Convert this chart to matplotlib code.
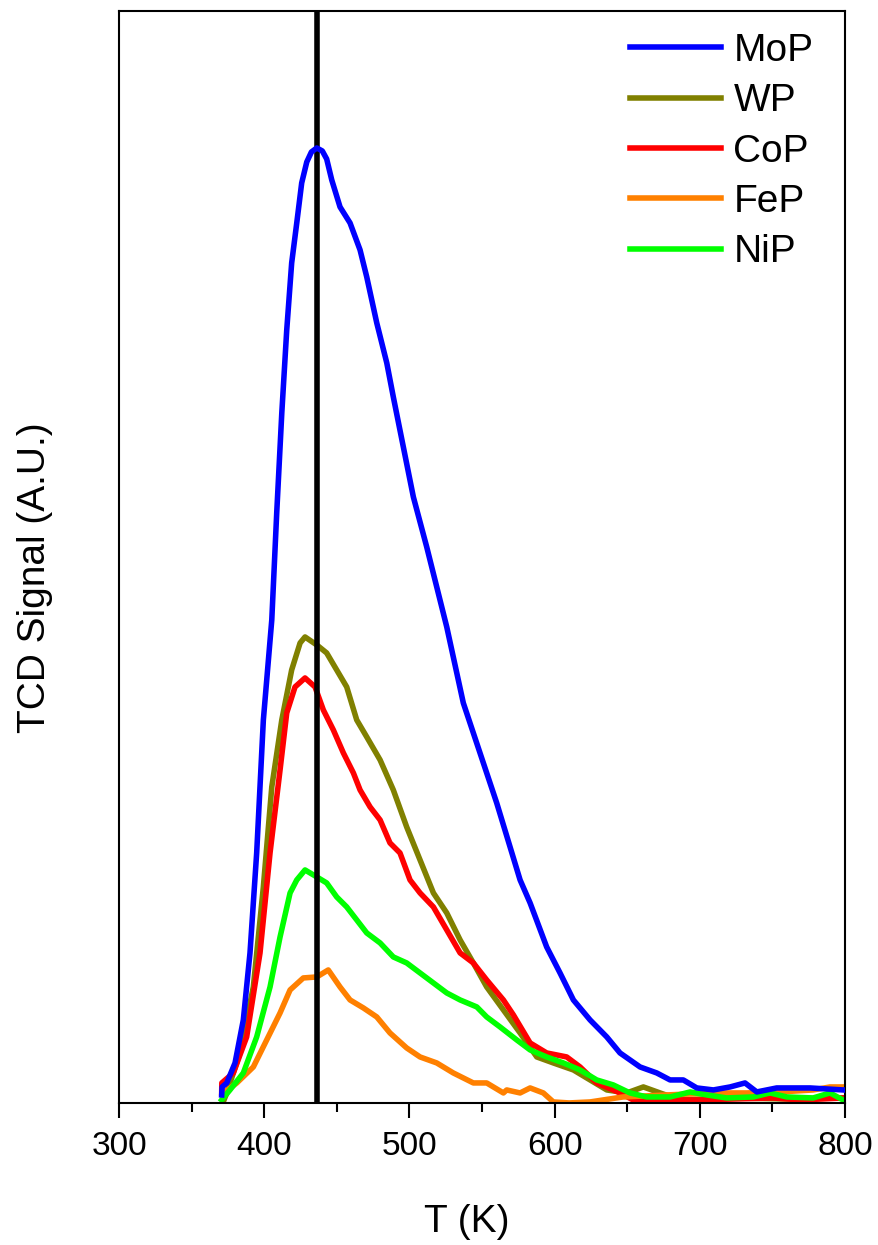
import matplotlib
matplotlib.use("Agg")
import matplotlib.pyplot as plt
from matplotlib.ticker import MultipleLocator

plt.rcParams['font.family'] = ['Liberation Sans', 'DejaVu Sans']

# TCD signal (arbitrary units) vs temperature
mop_t = [370.7, 371.0, 374.2, 379.9, 385.6, 390.2, 394.8, 399.4, 405.2, 408.6,
         412.1, 415.5, 418.9, 422.4, 425.8, 429.3, 432.5, 436.2, 440.0, 443.0,
         446.5, 452.2, 459.1, 466.0, 470.6, 477.5, 484.4, 488.9, 495.8, 502.7,
         511.9, 518.8, 525.7, 537.1, 548.6, 560.1, 569.3, 576.2, 583.1, 594.5,
         603.7, 612.9, 624.4, 635.9, 645.0, 658.8, 670.3, 679.5, 688.6, 697.9,
         709.3, 720.8, 731.1, 739.2, 752.9, 775.9, 798.6]
mop_s = [8, 16, 20, 40, 83, 150, 250, 383, 483, 590,
         690, 773, 840, 880, 920, 941, 951, 955, 952, 944,
         923, 896, 880, 853, 826, 780, 740, 706, 656, 606,
         556, 516, 476, 400, 350, 300, 256, 223, 200, 156,
         130, 103, 83, 66, 50, 36, 30, 23, 23, 15,
         13, 16, 20, 11, 15, 15, 13]

wp_t = [371.5, 374.2, 383.3, 392.5, 399.4, 405.2, 412.1, 418.9, 424.7, 428.1,
        436.2, 443.0, 449.9, 456.8, 463.7, 470.6, 479.8, 488.9, 498.1, 507.3,
        516.5, 525.7, 534.9, 544.0, 553.2, 564.7, 576.2, 587.7, 599.1, 612.9,
        624.4, 635.9, 649.7, 661.1, 672.6, 686.4, 720.0, 760.0, 798.6]
wp_s = [0, 10, 50, 116, 216, 316, 383, 433, 460, 466,
        458, 450, 433, 416, 383, 366, 343, 313, 276, 243,
        210, 190, 163, 140, 116, 93, 70, 46, 40, 33,
        23, 13, 10, 16, 10, 3, 5, 4, 5]

cop_t = [370.7, 370.8, 378.7, 387.9, 397.1, 404.0, 410.9, 415.5, 421.2, 428.1,
         435.0, 440.7, 447.6, 454.5, 461.4, 466.0, 472.9, 479.8, 486.6, 493.5,
         500.4, 507.3, 516.5, 525.7, 534.9, 544.0, 553.2, 564.7, 571.6, 583.1,
         594.5, 608.3, 617.5, 629.0, 645.0, 654.0, 700.0, 750.0, 770.0, 798.6]
cop_s = [10, 20, 30, 66, 150, 250, 333, 390, 416, 425,
         416, 393, 373, 350, 330, 313, 296, 283, 260, 250,
         223, 210, 196, 173, 150, 140, 123, 103, 88, 60,
         50, 46, 36, 20, 10, 3, 3, 5, 3, 5]

fep_t = [372.0, 381.1, 392.5, 401.7, 410.9, 417.8, 426.9, 436.2, 444.1, 452.2,
         459.1, 468.3, 477.5, 486.6, 498.1, 507.3, 518.8, 530.2, 544.0, 553.2,
         564.7, 567.0, 576.2, 583.1, 592.2, 599.1, 610.0, 624.4, 647.1, 677.2,
         709.3, 732.3, 755.2, 778.0, 789.6, 798.6]
fep_s = [10, 20, 36, 63, 90, 113, 125, 126, 133, 116,
         103, 95, 86, 70, 55, 46, 40, 30, 20, 20,
         10, 13, 10, 15, 10, 1, 0, 1, 6, 8,
         10, 10, 11, 13, 16, 16]

nip_t = [370.7, 376.4, 385.6, 394.8, 404.0, 410.9, 417.8, 422.4, 428.1, 436.2,
         443.0, 449.9, 456.8, 463.7, 470.6, 479.8, 488.9, 498.1, 507.3, 516.5,
         525.7, 534.9, 546.4, 553.2, 562.4, 573.9, 583.1, 594.5, 606.0, 617.5,
         629.0, 640.4, 651.9, 663.4, 679.5, 693.3, 704.8, 718.5, 736.8, 748.3,
         759.9, 778.0, 789.6, 798.6]
nip_s = [3, 13, 30, 66, 116, 166, 210, 223, 233, 226,
         220, 206, 196, 183, 170, 160, 146, 140, 130, 120,
         110, 103, 96, 86, 76, 63, 53, 46, 40, 33,
         23, 18, 10, 6, 6, 11, 8, 5, 6, 10,
         6, 5, 10, 3]

peak_t = 436

fig = plt.figure(figsize=(8.79, 12.45), dpi=100)
ax = fig.add_axes([0.1354, 0.1141, 0.826, 0.8771])

lw = 4.0
ax.plot(mop_t, mop_s, color='#0000FF', lw=lw, label='MoP', zorder=3)
ax.plot(wp_t, wp_s, color='#808000', lw=lw, label='WP')
ax.plot(cop_t, cop_s, color='#FF0000', lw=lw, label='CoP')
ax.plot(fep_t, fep_s, color='#FF8000', lw=lw, label='FeP')
ax.plot(nip_t, nip_s, color='#00FF00', lw=lw, label='NiP')
ax.axvline(peak_t, color='black', lw=4, zorder=2.5)

ax.set_xlim(300, 800)
ax.set_ylim(0, 1092)
ax.xaxis.set_major_locator(MultipleLocator(100))
ax.xaxis.set_minor_locator(MultipleLocator(50))
ax.set_yticks([])
ax.tick_params(axis='x', which='major', direction='out', length=11, width=1.5,
               labelsize=24, pad=9)
ax.tick_params(axis='x', which='minor', direction='out', length=6.5, width=1.5)
for sp in ax.spines.values():
    sp.set_linewidth(1.5)

ax.set_xlabel('T (K)', fontsize=28)
ax.set_ylabel('TCD Signal (A.U.)', fontsize=28)
ax.xaxis.set_label_coords(0.479, -0.0925)
ax.yaxis.set_label_coords(-0.0909, 0.4808)

ax.legend(loc='upper right', bbox_to_anchor=(0.9565, 0.98), frameon=False,
          fontsize=28, handlelength=2.32, handletextpad=0.33, labelspacing=0.37,
          borderpad=0, borderaxespad=0)

fig.savefig('out.png', dpi=100)
